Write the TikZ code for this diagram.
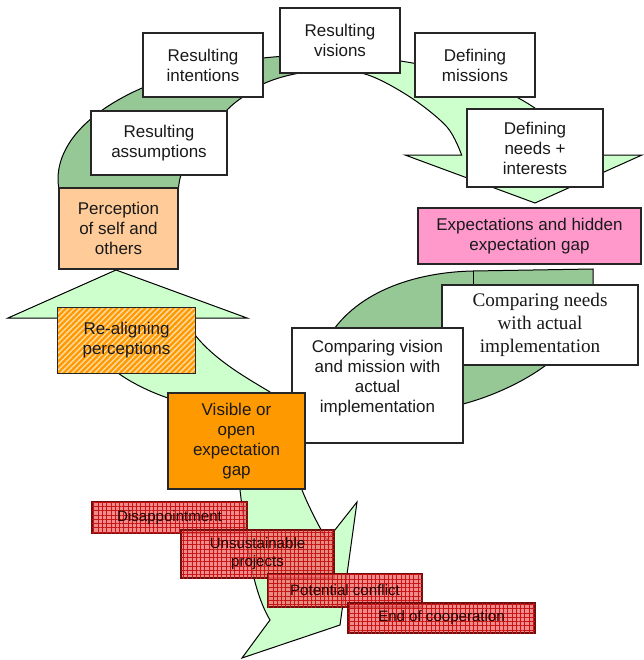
\documentclass[tikz,border=0pt]{standalone}
\usepackage{fontspec}
\setmainfont{Liberation Sans}
\newfontfamily\timesfont{Liberation Serif}
\usetikzlibrary{patterns,patterns.meta}

\definecolor{palegreen}{RGB}{204,255,204}
\definecolor{sagegreen}{RGB}{150,200,150}
\definecolor{peach}{RGB}{255,204,153}
\definecolor{rose}{RGB}{255,153,204}
\definecolor{amber}{RGB}{255,153,0}
\definecolor{stripe}{RGB}{255,218,160}
\definecolor{redfill}{RGB}{236,110,110}
\definecolor{redgrid}{RGB}{200,20,20}
\definecolor{redline}{RGB}{110,15,15}

% outline of the large curved arrow across the top
\newcommand\toparcpath{(461.6,155) -- (405,155) -- (535,203) -- (642,155) -- (577.05,155)
  -- plot[domain=11.16:189.75, samples=90, variable=\t] ({320+262*cos(\t)},{179-124*sin(\t)})
  -- (178,200)
  -- plot[smooth, tension=0.55] coordinates {(178,200) (181,175) (200,138) (227,110) (240,99)
       (263,84) (290,75) (320,71) (365,74) (410,97) (447,127) (461.6,155)}
  -- cycle}

\begin{document}
\begin{tikzpicture}[x=0.75pt,y=-0.75pt,
  every node/.style={font=\fontsize{12.75}{15}\selectfont, align=center, text=black!90},
  shapeline/.style={draw=black, line width=0.75pt, line join=miter},
  card/.style={draw=black!85, line width=0.9pt, fill=white, inner sep=0pt},
  alarm/.style={draw=redline, line width=0.9pt, fill=redfill, fill opacity=0.8,
    text opacity=1, inner sep=0pt, font=\fontsize{11.3}{13.5}\selectfont, text=black!85!red,
    postaction={pattern={Hatch[angle=0,distance=3.2pt,line width=0.6pt]}, pattern color=redgrid}},
]
\useasboundingbox (0,0) rectangle (643,660);

% ---- curved arrow across the top ----
\fill[palegreen] \toparcpath;
\begin{scope}
  \clip (0,0) rectangle (340,300);
  \fill[sagegreen] \toparcpath;
\end{scope}
\draw[shapeline] \toparcpath;

% ---- dark crescent on the right ----
\path[shapeline, fill=sagegreen] (593,290) -- (593,269) -- (473,271)
  .. controls (422,272) and (358,288) .. (328,338)
  -- (320,370) -- (380,425) -- (463,404)
  .. controls (490,397) and (525,382) .. (550,362)
  -- (600,320) -- cycle;
\draw[shapeline] (473,271) -- (473,286);

% ---- upward arrow on the left ----
\path[shapeline, fill=palegreen] (8,318) -- (80,318) -- (100,350) -- (118,373)
  .. controls (130,382) and (150,392) .. (168,398)
  -- (200,430) -- (290,430) -- (270,392)
  .. controls (245,377) and (215,360) .. (195,335)
  -- (185,318) -- (247,318) -- (116,270) -- cycle;

% ---- downward arrow at the bottom ----
\path[shapeline, fill=palegreen] (238,470) -- (240,490)
  .. controls (246,540) and (252,590) .. (270,620)
  -- (242,658) -- (340,625) -- (357,502) -- (327,540)
  .. controls (318,525) and (308,505) .. (302,490)
  -- (300,470) -- cycle;

% ---- boxes along the top cycle ----
\node[card, minimum width=90pt, minimum height=48pt] (intentions) at (203,65) {Resulting\\intentions};
\node[card, minimum width=90pt, minimum height=48.75pt] (visions) at (340,40.5) {Resulting\\visions};
\node[card, minimum width=90pt, minimum height=48pt] (missions) at (475,65) {Defining\\missions};
\node[card, minimum width=102pt, minimum height=48pt] (assumptions) at (159,143) {Resulting\\assumptions};
\node[card, minimum width=102pt, minimum height=58.5pt] (needs) at (535,148) {Defining\\needs +\\interests};
\node[card, fill=peach, minimum width=89.25pt, minimum height=60.75pt] (perception) at (118.5,228.5) {Perception\\of self and\\others};
\node[card, fill=rose, minimum width=167.25pt, minimum height=42pt] (expectations) at (529.5,236) {Expectations and hidden\\expectation gap};

% ---- comparison boxes ----
\node[card, minimum width=147pt, minimum height=60pt, font=\timesfont\fontsize{14.4}{17.3}\selectfont] (cneeds) at (540,325) {Comparing needs\\with actual\\implementation};
\node[card, minimum width=128.25pt, minimum height=86.25pt] (cvision) at (377.5,385.5) {};
\node (cvisiontext) at (377.5,378) {Comparing vision\\and mission with\\actual\\implementation};

% ---- perception loop ----
\node[inner sep=0pt, fill=amber, minimum width=102.75pt, minimum height=48.75pt,
  postaction={pattern={Lines[angle=45,distance=3pt,line width=1.1pt]}, pattern color=stripe}] (realign) at (126.5,340.5) {};
\draw[draw=black!85, line width=0.9pt] (realign.north west) rectangle (realign.south east);
\node (realigntext) at (126.5,340.5) {Re-aligning\\perceptions};
\node[card, fill=amber, minimum width=102.75pt, minimum height=72pt] (visible) at (236.5,441) {Visible or\\open\\expectation\\gap};

% ---- consequences ----
\node[alarm, minimum width=116.25pt, minimum height=23.25pt] (disappointment) at (169.5,517.5) {Disappointment};
\node[alarm, minimum width=114.75pt, minimum height=36pt] (unsustainable) at (257.5,554) {Unsustainable\\projects};
\node[alarm, minimum width=115.5pt, minimum height=24.75pt] (conflict) at (345,590.5) {Potential conflict};
\node[alarm, minimum width=140.25pt, minimum height=22.5pt] (endcoop) at (441.5,618) {End of cooperation};
\end{tikzpicture}
\end{document}
